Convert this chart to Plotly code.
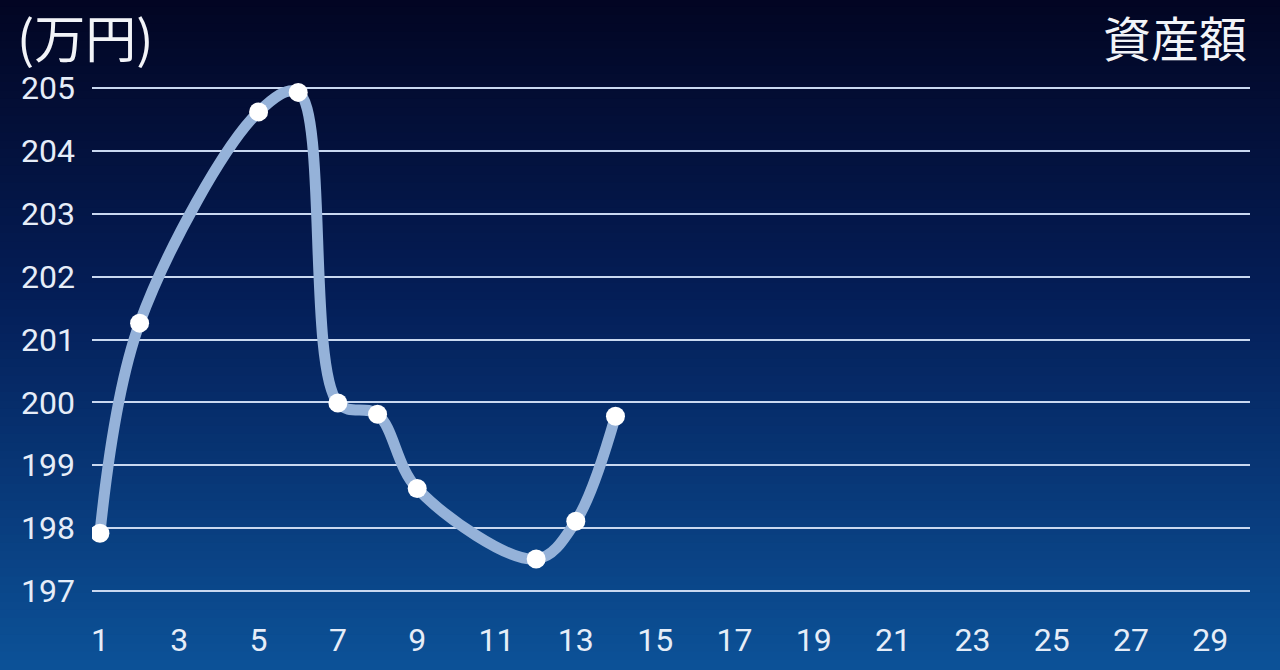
import plotly.graph_objects as go

days = [1, 2, 5, 6, 7, 8, 9, 12, 13, 14]
assets = [197.92, 201.26, 204.62, 204.93, 199.99, 199.81, 198.63, 197.51, 198.11, 199.78]
x_ticks = list(range(1, 30, 2))
y_ticks = list(range(197, 206))
unit_label = "(万円)"
title_label = "資産額"

W, H = 1280, 670
ML, MR, MT, MB = 92, 30, 60, 52

fig = go.Figure()
fig.add_trace(go.Scatter(
    x=days, y=assets, mode="lines+markers",
    line=dict(color="#95b2d9", width=11, shape="spline", smoothing=1.0),
    marker=dict(color="white", size=19, line=dict(width=0)),
    hoverinfo="skip", showlegend=False,
))

# vertical gradient background via stacked bands
stops = [(0.0, (2, 5, 34)), (0.45, (4, 30, 88)), (1.0, (12, 82, 152))]
def col(t):
    for (t0, c0), (t1, c1) in zip(stops[:-1], stops[1:]):
        if t0 <= t <= t1:
            f = (t - t0) / (t1 - t0)
            return "rgb(%d,%d,%d)" % tuple(round(a + (b - a) * f) for a, b in zip(c0, c1))
    return "rgb(%d,%d,%d)" % stops[-1][1]

pw, ph = W - ML - MR, H - MT - MB
y_bottom = -MB / ph
y_top = 1 + MT / ph
n = 80
shapes = []
for i in range(n):
    t0 = i / n
    t1 = (i + 1) / n
    y1 = y_top - (y_top - y_bottom) * t0
    y0 = y_top - (y_top - y_bottom) * t1
    shapes.append(dict(type="rect", xref="paper", yref="paper",
                       x0=-ML / pw - 0.02, x1=1 + MR / pw + 0.02, y0=y0 - 0.003, y1=y1 + 0.003,
                       fillcolor=col((t0 + t1) / 2), line=dict(width=0), layer="below"))

fig.update_layout(
    width=W, height=H, autosize=False,
    margin=dict(l=ML, r=MR, t=MT, b=MB, autoexpand=False),
    paper_bgcolor="#0b4f95", plot_bgcolor="rgba(0,0,0,0)",
    shapes=shapes,
    xaxis=dict(range=[0.8, 30.0], tickmode="array", tickvals=x_ticks, automargin=False,
               showgrid=False, zeroline=False, showline=False, ticks="",
               tickfont=dict(family="Roboto", size=32, color="#e6edf8")),
    yaxis=dict(range=[196.571, 205.445], tickmode="array", tickvals=y_ticks, automargin=False,
               showgrid=True, gridcolor="#c9d8f0", gridwidth=2, zeroline=False,
               showline=False, ticks="", ticklabelstandoff=16,
               tickfont=dict(family="Roboto", size=32, color="#e6edf8")),
    annotations=[
        dict(text=unit_label, xref="paper", yref="paper", x=-ML / pw + 15 / pw, y=1 + (MT - 36) / ph,
             xanchor="left", yanchor="middle", showarrow=False,
             font=dict(family="Noto Sans CJK JP", size=51, color="#f2f4f8")),
        dict(text=title_label, xref="paper", yref="paper", x=1 + (MR - 31) / pw, y=1 + (MT - 36) / ph,
             xanchor="right", yanchor="middle", showarrow=False,
             font=dict(family="Noto Sans CJK JP", size=48, color="#f2f4f8")),
    ],
)

fig.write_html("out.html", config={"displayModeBar": False},
               post_script="document.body.style.margin='0';document.body.style.padding='0';")
